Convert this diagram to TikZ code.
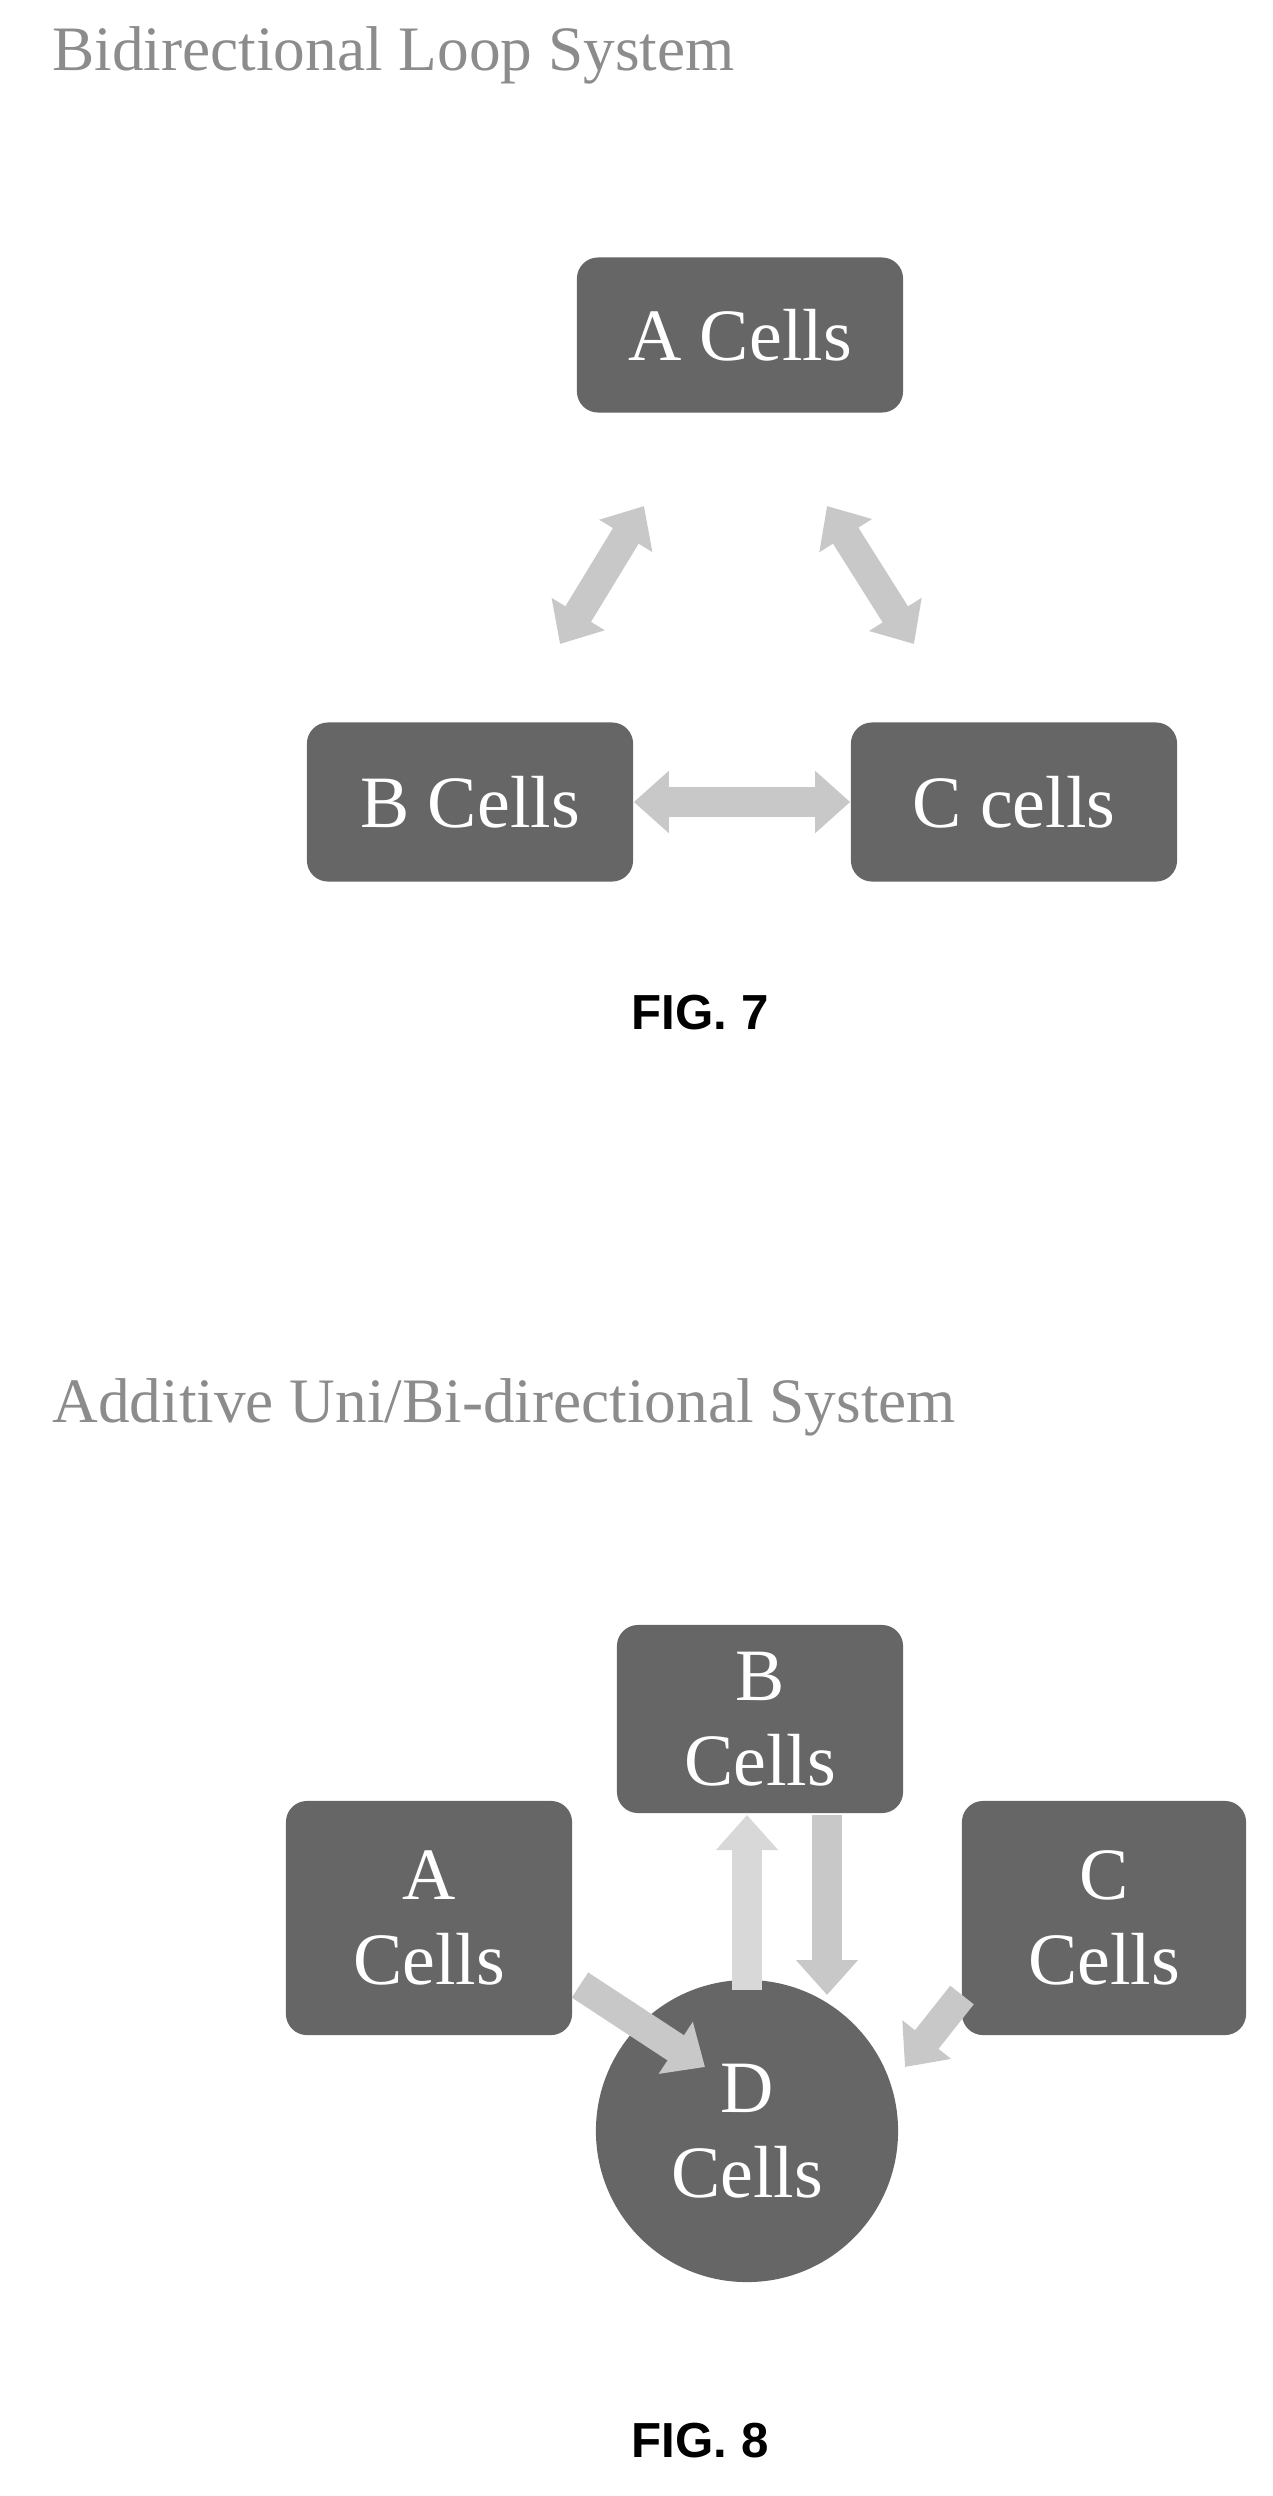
\documentclass[tikz,border=0pt]{standalone}
\usepackage{fontspec}
\setmainfont{Liberation Serif}
\setsansfont{Liberation Sans}
\usetikzlibrary{arrows.meta,positioning}
\definecolor{cellgray}{RGB}{102,102,102}
\definecolor{flowgray}{RGB}{200,200,200}
\definecolor{titlegray}{RGB}{140,140,140}

\begin{document}
\begin{tikzpicture}[x=0.01cm, y=-0.01cm,
    cellbox/.style={rectangle, fill=cellgray, rounded corners=6pt, text=white, font=\fontsize{21}{24}\selectfont, align=center, inner sep=0pt},
    cellround/.style={circle, fill=cellgray, text=white, font=\fontsize{21}{24}\selectfont, align=center, inner sep=0pt, minimum size=3.02cm},
    flow/.style={flowgray, line width=0.3cm, -{Triangle[width=0.6cm,length=0.35cm]}},
    twoway/.style={flowgray, line width=0.3cm, {Triangle[width=0.6cm,length=0.35cm]}-{Triangle[width=0.6cm,length=0.35cm]}},
    heading/.style={text=titlegray, font=\fontsize{18}{22}\selectfont, anchor=west},
    figlabel/.style={font=\sffamily\bfseries\fontsize{14}{16}\selectfont}]
    \useasboundingbox (0,0) rectangle (1272,2496);

    % FIG. 7
    \node[heading] (title7) at (40,55) {Bidirectional Loop System};
    \node[cellbox, minimum width=3.26cm, minimum height=1.55cm] (a7) at (740,335) {A Cells};
    \node[cellbox, minimum width=3.26cm, minimum height=1.59cm] (b7) at (470,802) {B Cells};
    \node[cellbox, minimum width=3.26cm, minimum height=1.59cm] (c7) at (1014,802) {C cells};
    \coordinate (ab1) at (644,506); \coordinate (ab2) at (560,644);
    \coordinate (ac1) at (827,506); \coordinate (ac2) at (914,644);
    \draw[twoway] (ab1) -- (ab2);
    \draw[twoway] (ac1) -- (ac2);
    \draw[twoway] (b7) -- (c7);
    \node[figlabel] (fig7) at (700,1013) {FIG. 7};

    % FIG. 8
    \node[heading] (title8) at (40,1407) {Additive Uni/Bi-directional System};
    \node[cellbox, minimum width=2.86cm, minimum height=1.88cm] (b8) at (760,1719) {B\\Cells};
    \node[cellbox, minimum width=2.86cm, minimum height=2.34cm] (a8) at (429,1918) {A\\Cells};
    \node[cellbox, minimum width=2.84cm, minimum height=2.34cm] (c8) at (1104,1918) {C\\Cells};
    \node[cellround] (d8) at (747,2131) {D\\Cells};
    \coordinate (up1) at (747,1990); \coordinate (up2) at (747,1815);
    \coordinate (dn1) at (827,1815); \coordinate (dn2) at (827,1995);
    \coordinate (ad1) at (580,1985); \coordinate (ad2) at (705,2067);
    \coordinate (cd1) at (962,1995); \coordinate (cd2) at (905,2067);
    \draw[flow, flowgray!70] (up1) -- (up2);
    \draw[flow] (dn1) -- (dn2);
    \draw[flow] (ad1) -- (ad2);
    \draw[flow] (cd1) -- (cd2);
    \node[figlabel] (fig8) at (700,2441) {FIG. 8};
\end{tikzpicture}
\end{document}
